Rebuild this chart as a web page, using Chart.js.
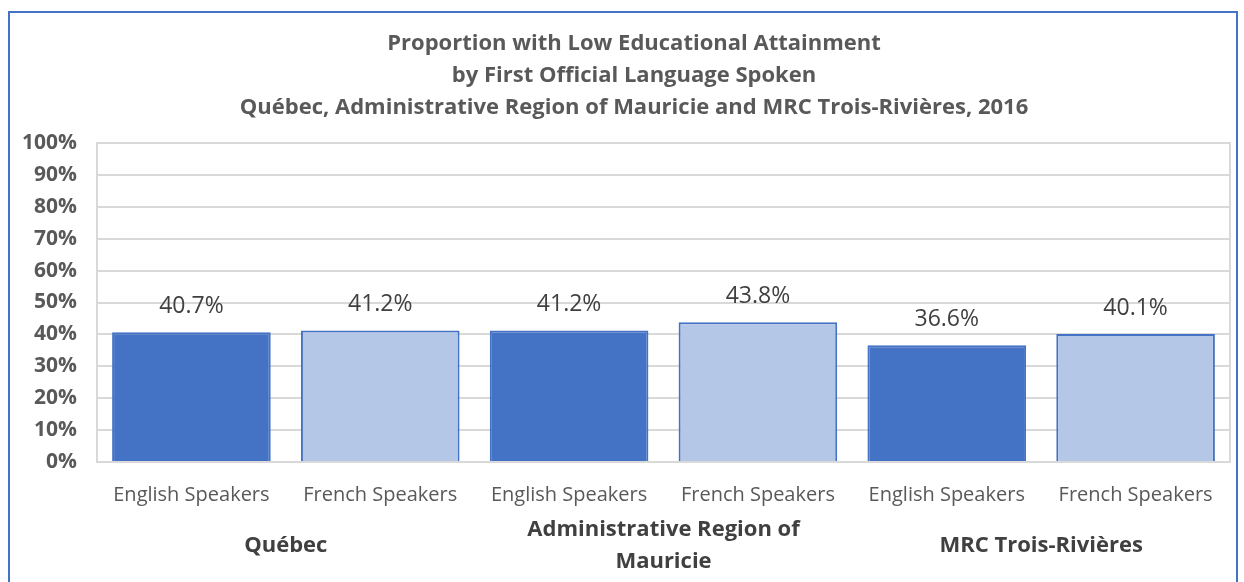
<!DOCTYPE html>
<html>
<head>
<meta charset="utf-8">
<script src="https://cdn.jsdelivr.net/npm/chart.js@4/dist/chart.umd.min.js"></script>
<style>
  html, body { margin: 0; padding: 0; background: #fff; }
  body { width: 1244px; height: 582px; position: relative; overflow: hidden; }
  .frame { position: absolute; left: 8px; top: 11px; width: 1230px; height: 600px; border: 2px solid #4472c4; box-sizing: border-box; }
  canvas { position: absolute; left: 0; top: 0; }
</style>
</head>
<body>
<div class="frame"></div>
<canvas id="chart" width="1244" height="582"></canvas>
<script>
const FONT = "'Open Sans', Lato, sans-serif";

const titleLines = [
  "Proportion with Low Educational Attainment",
  "by First Official Language Spoken",
  "Québec, Administrative Region of Mauricie and MRC Trois-Rivières, 2016",
];
const categories = [
  "English Speakers", "French Speakers",
  "English Speakers", "French Speakers",
  "English Speakers", "French Speakers",
];
const groups = [["Québec"], ["Administrative Region of", "Mauricie"], ["MRC Trois-Rivières"]];
const values = [40.7, 41.2, 41.2, 43.8, 36.6, 40.1];
const barColors = ["#4472c4", "#b4c7e7", "#4472c4", "#b4c7e7", "#4472c4", "#b4c7e7"];
const yTicks = [0, 10, 20, 30, 40, 50, 60, 70, 80, 90, 100];

// title, plot frame, value labels above bars, and group labels under the axis
const extras = {
  id: "extras",
  beforeDatasetsDraw(chart) {
    const { ctx, chartArea: a } = chart;
    ctx.save();
    ctx.strokeStyle = "#d9d9d9";
    ctx.lineWidth = 2;
    ctx.strokeRect(a.left, a.top, a.right - a.left, a.bottom - a.top);

    // title sits a little left of the plot centre, as in the source
    ctx.font = `bold 22px ${FONT}`;
    ctx.fillStyle = "#595959";
    ctx.textAlign = "center";
    ctx.textBaseline = "middle";
    titleLines.forEach((t, k) => ctx.fillText(t, 634, 44 + k * 32));
    ctx.restore();
  },
  afterDatasetsDraw(chart) {
    const { ctx } = chart;
    const meta = chart.getDatasetMeta(0);
    ctx.save();
    ctx.font = `23px ${FONT}`;
    ctx.fillStyle = "#404040";
    ctx.textAlign = "center";
    ctx.textBaseline = "middle";
    meta.data.forEach((bar, i) => {
      ctx.fillText(values[i].toFixed(1) + "%", bar.x, bar.y - 26);
    });

    const x = chart.scales.x;
    ctx.font = `bold 22px ${FONT}`;
    ctx.fillStyle = "#404040";
    groups.forEach((lines, g) => {
      const cx = (x.getPixelForValue(g * 2) + x.getPixelForValue(g * 2 + 1)) / 2;
      const y0 = lines.length === 1 ? 546 : 530;
      lines.forEach((t, k) => ctx.fillText(t, cx, y0 + k * 32));
    });
    ctx.restore();
  },
};

new Chart(document.getElementById("chart"), {
  type: "bar",
  data: {
    labels: categories,
    datasets: [
      {
        data: values,
        backgroundColor: barColors,
        borderColor: "#4472c4",
        borderWidth: 2,
        barPercentage: 0.84,
        categoryPercentage: 1,
      },
    ],
  },
  options: {
    responsive: false,
    animation: false,
    layout: { padding: { left: 0, right: 14, top: 143, bottom: 0 } },
    plugins: {
      legend: { display: false },
      tooltip: { enabled: false },
      title: { display: false },
    },
    scales: {
      y: {
        min: 0,
        max: 100,
        afterBuildTicks: (s) => { s.ticks = yTicks.map((v) => ({ value: v })); },
        afterFit: (s) => { s.width = 97; },
        ticks: {
          color: "#595959",
          padding: 20,
          font: { family: FONT, size: 21, weight: "bold" },
          callback: (v) => v + "%",
        },
        grid: { color: "#d9d9d9", lineWidth: 2, drawTicks: false },
        border: { display: true, color: "#d9d9d9", width: 2 },
      },
      x: {
        afterFit: (s) => { s.height = 120; },
        ticks: {
          color: "#595959",
          padding: 13,
          maxRotation: 0,
          autoSkip: false,
          font: { family: FONT, size: 20 },
        },
        grid: { display: false },
        border: { display: true, color: "#d9d9d9", width: 2 },
      },
    },
  },
  plugins: [extras],
});
</script>
</body>
</html>
